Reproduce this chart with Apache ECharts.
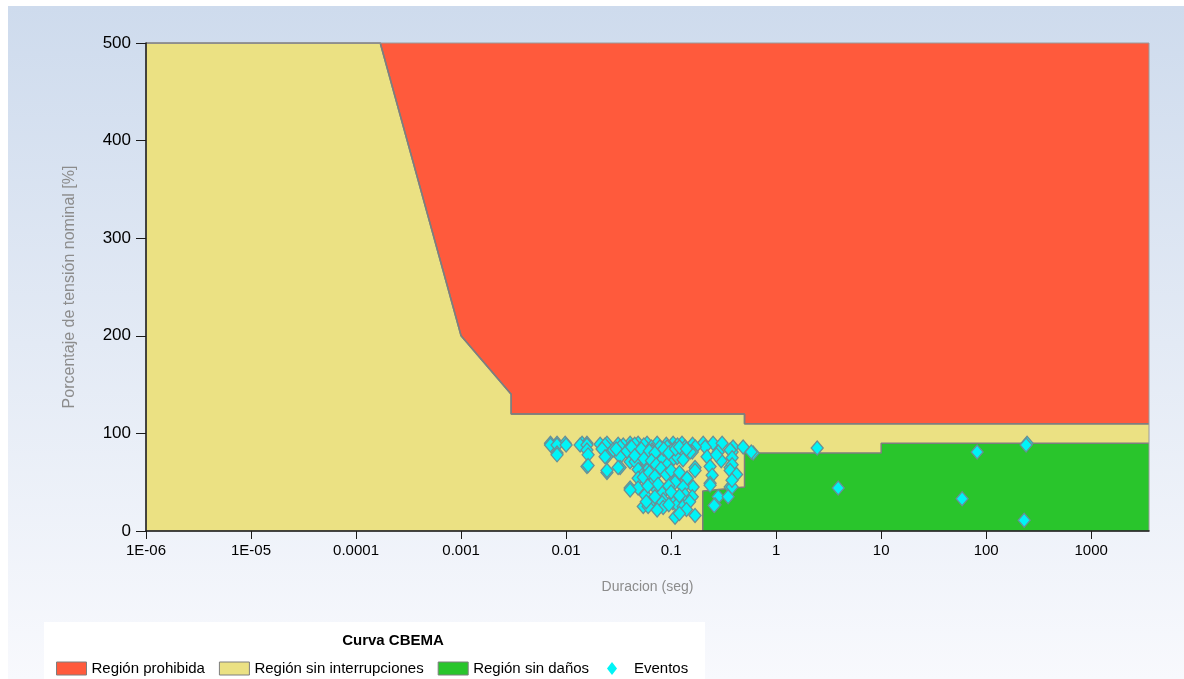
<!DOCTYPE html>
<html>
<head>
<meta charset="utf-8">
<script src="https://cdn.jsdelivr.net/npm/echarts@6/dist/echarts.min.js"></script>
<style>
  html, body { margin: 0; padding: 0; background: #ffffff; }
  #chart { width: 1184px; height: 679px; }
</style>
</head>
<body>
<div id="chart"></div>
<script>
// ---------- data ----------
const xTickValues = [1e-6, 1e-5, 1e-4, 1e-3, 1e-2, 1e-1, 1, 10, 100, 1000];
const xTickLabels = ['1E-06', '1E-05', '0.0001', '0.001', '0.01', '0.1', '1', '10', '100', '1000'];
const yTickValues = [0, 100, 200, 300, 400, 500];
const xMin = 1e-6;
const xMax = 3550;

// upper CBEMA boundary (duration s, % nominal)
const upperCurve = [
  [1e-6, 500], [0.00017, 500], [0.001, 200], [0.003, 140], [0.003, 120],
  [0.5, 120], [0.5, 110], [3550, 110]
];
// lower boundary of the "no damage" region
const lowerCurve = [
  [0.2, 0], [0.2, 41], [0.5, 45], [0.5, 80], [10, 80], [10, 90], [3550, 90]
];

// measured events (duration s, % nominal)
const eventos = [
  [0.0071,90],[0.0082,90],[0.0098,90],[0.0142,90],[0.0158,90],[0.0245,90],[0.0407,90],[0.0485,90],
  [0.059,90],[0.0736,90],[0.1045,90],[0.127,90],[0.202,90],[0.251,90],[0.306,90],[0.0313,89],
  [0.0211,89],[0.09,89],[0.16,89],[0.045,89],
  [0.0071,88],[0.0082,88],[0.01,88],[0.0136,88],[0.0158,88],[0.0235,88],[0.035,88],[0.055,88],[0.115,88],
  [0.0327,86],[0.0407,86],[0.0916,86],[0.136,86],[0.211,86],[0.389,86],[0.485,86],[0.065,86],[0.078,86],[0.17,86],
  [0.0158,83],[0.0659,83],[0.0659,81],[0.159,81],[0.152,81],[0.281,81],[0.381,81],[0.365,83],[0.05,81],
  [0.1,82],[0.028,83],[0.022,84],
  [0.0082,80],[0.0485,80],[0.122,80],[0.604,80],[0.58,81],
  [0.0082,78],[0.0162,78],[0.0245,76],[0.0327,76],[0.0753,75],[0.075,76],[0.114,75],[0.22,76],[0.381,75],
  [0.0235,76],[0.13,73],
  [0.0977,70],[0.082,73],[0.0604,70],[0.0407,71],[0.0454,71],
  [0.0158,66],[0.0162,67],[0.0327,65],[0.0313,65],[0.0916,66],[0.0565,65],[0.169,65],[0.235,66],[0.365,65],
  [0.381,68],[0.0916,68],
  [0.0245,60],[0.0245,62],[0.0507,62],[0.059,62],[0.0485,63],[0.169,62],[0.053,57],[0.246,57],[0.142,54],
  [0.0485,54],[0.0543,55],[0.365,62],
  [0.0675,52],[0.109,52],[0.0659,52],[0.109,50],[0.142,54],[0.162,45],[0.13,45],[0.235,49],[0.235,47],
  [0.365,45],[0.381,45],[0.0407,44],[0.0485,44],
  [0.0407,42],[0.0736,42],[0.0877,42],[0.0565,37],[0.082,39],[0.136,37],[0.159,35],[0.281,35],[0.349,35],
  [0.0675,32],[0.084,32],
  [0.104,29],[0.082,29],[0.114,27],[0.262,27],[0.0543,25],[0.0604,25],[0.084,24],[0.13,25],[0.0736,21.5],
  [0.257,26],[0.109,14],[0.169,16],
  [0.03,84],[0.038,82],[0.042,86],[0.052,84],[0.062,82],[0.07,80],[0.085,84],[0.095,80],[0.11,84],
  [0.12,86],[0.14,84],[0.045,77],[0.055,74],[0.065,72],[0.072,68],[0.08,64],[0.062,60],[0.07,56],
  [0.09,58],[0.1,62],[0.12,60],[0.075,48],[0.06,46],[0.095,46],[0.1,40],[0.12,36],[0.07,35],[0.058,30],
  [0.095,27],[0.15,30],[0.14,22],[0.12,18],[0.3,72],[0.27,78],[0.42,58],[0.38,52],
  [2.46,85],[3.9,44],[82,81],[59,33],[245,90],[240,88],[230,11]
];

const colors = {
  red: '#FF5A3C',
  yellow: '#EBE183',
  green: '#29C52C',
  edge: '#7E7E7E',
  marker: '#00F4F6',
  markerEdge: '#6A8F96'
};

const chart = echarts.init(document.getElementById('chart'), null, { renderer: 'canvas' });

const fontFam = '"Liberation Sans", Arial, sans-serif';

const option = {
  animation: false,
  backgroundColor: '#ffffff',
  graphic: [
    {
      type: 'rect', z: -10, silent: true,
      shape: { x: 8, y: 6, width: 1176, height: 673 },
      style: {
        fill: new echarts.graphic.LinearGradient(0, 0, 0, 1, [
          { offset: 0, color: '#CEDBED' },
          { offset: 1, color: '#F8F9FD' }
        ])
      }
    },
    {
      type: 'rect', z: -5, silent: true,
      shape: { x: 44, y: 622, width: 661, height: 57 },
      style: { fill: '#ffffff' }
    }
  ],
  title: {
    text: 'Curva CBEMA',
    left: 388,
    top: 628,
    textAlign: 'center',
    textStyle: { fontFamily: fontFam, fontSize: 15, fontWeight: 'bold', color: '#000' }
  },
  legend: [
    {
      left: 56,
      top: 661,
      padding: 0,
      itemWidth: 30,
      itemHeight: 13,
      itemGap: 14,
      textStyle: { fontFamily: fontFam, fontSize: 15, color: '#000' },
      data: [
        { name: 'Región prohibida', icon: 'rect', itemStyle: { color: colors.red, borderColor: colors.edge, borderWidth: 1 } },
        { name: 'Región sin interrupciones', icon: 'rect', itemStyle: { color: colors.yellow, borderColor: colors.edge, borderWidth: 1 } },
        { name: 'Región sin daños', icon: 'rect', itemStyle: { color: colors.green, borderColor: colors.edge, borderWidth: 1 } }
      ],
      selectedMode: false
    },
    {
      left: 607,
      top: 661,
      padding: 0,
      itemWidth: 10,
      itemHeight: 13,
      textStyle: { fontFamily: fontFam, fontSize: 15, color: '#000', padding: [0, 0, 0, 12] },
      data: [
        { name: 'Eventos', icon: 'diamond', itemStyle: { color: colors.marker, borderWidth: 0 } }
      ],
      selectedMode: false
    }
  ],
  grid: {
    show: true,
    z: 10,
    left: 146,
    right: 35,
    top: 43,
    bottom: 148,
    backgroundColor: 'transparent',
    borderColor: '#9a9a9a',
    borderWidth: 1
  },
  xAxis: {
    type: 'log',
    logBase: 10,
    min: xMin,
    max: xMax,
    z: 11,
    name: 'Duracion (seg)',
    nameLocation: 'middle',
    nameGap: 49,
    nameTextStyle: { fontFamily: fontFam, fontSize: 14, color: '#8C8C8C' },
    axisLine: { show: true, onZero: false, lineStyle: { color: '#1a1a1a', width: 1.5 } },
    axisTick: { show: true, length: 8, customValues: xTickValues, lineStyle: { color: '#1a1a1a', width: 1 } },
    axisLabel: {
      show: true,
      margin: 12,
      customValues: xTickValues,
      fontFamily: fontFam,
      fontSize: 15,
      color: '#000',
      formatter: function (v) {
        let best = 0, bd = Infinity;
        for (let i = 0; i < xTickValues.length; i++) {
          const d = Math.abs(Math.log10(v) - Math.log10(xTickValues[i]));
          if (d < bd) { bd = d; best = i; }
        }
        return bd < 0.01 ? xTickLabels[best] : '';
      }
    },
    splitLine: { show: false },
    minorTick: { show: false }
  },
  yAxis: {
    type: 'value',
    min: 0,
    max: 500,
    interval: 100,
    z: 11,
    name: 'Porcentaje de tensión nominal [%]',
    nameLocation: 'middle',
    nameGap: 68,
    nameTextStyle: { fontFamily: fontFam, fontSize: 16, color: '#8C8C8C' },
    axisLine: { show: true, lineStyle: { color: '#1a1a1a', width: 1.5 } },
    axisTick: { show: true, length: 10, lineStyle: { color: '#1a1a1a', width: 1 } },
    axisLabel: {
      margin: 15,
      fontFamily: fontFam,
      fontSize: 17,
      color: '#000',
      formatter: function (v) { return yTickValues.indexOf(v) >= 0 ? String(v) : ''; }
    },
    splitLine: { show: false }
  },
  series: [
    {
      name: 'Región prohibida',
      type: 'line',
      data: upperCurve,
      symbol: 'none',
      itemStyle: { color: colors.red },
      lineStyle: { color: colors.edge, width: 1.5 },
      areaStyle: { origin: 'end', color: colors.red, opacity: 1 },
      z: 2
    },
    {
      name: 'Región sin interrupciones',
      type: 'line',
      data: upperCurve,
      symbol: 'none',
      itemStyle: { color: colors.yellow },
      lineStyle: { color: colors.edge, width: 1.5 },
      areaStyle: { origin: 'start', color: colors.yellow, opacity: 1 },
      z: 2
    },
    {
      name: 'Región sin daños',
      type: 'line',
      data: lowerCurve,
      symbol: 'none',
      itemStyle: { color: colors.green },
      lineStyle: { color: colors.edge, width: 1.5 },
      areaStyle: { origin: 'start', color: colors.green, opacity: 1 },
      z: 3
    },
    {
      name: 'Eventos',
      type: 'scatter',
      data: eventos,
      symbol: 'diamond',
      symbolSize: [12, 14],
      itemStyle: { color: colors.marker, borderColor: colors.markerEdge, borderWidth: 1.3, opacity: 1 },
      z: 5
    }
  ]
};

chart.setOption(option);
</script>
</body>
</html>
